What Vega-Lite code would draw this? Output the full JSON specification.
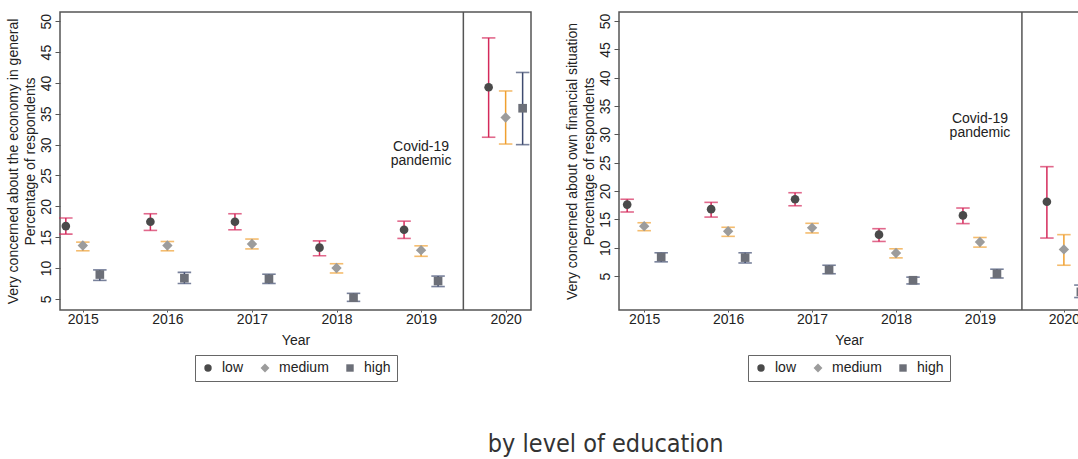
{
  "$schema": "https://vega.github.io/schema/vega-lite/v6.json",
  "padding": {"left": 5, "top": 10, "right": 0, "bottom": 5},
  "background": "white",
  "datasets": {
    "econ": [
      {"year": 2015, "edu": "low", "est": 16.8, "lo": 15.5, "hi": 18.1},
      {"year": 2015, "edu": "medium", "est": 13.65, "lo": 12.8, "hi": 14.2},
      {"year": 2015, "edu": "high", "est": 8.95, "lo": 8.0, "hi": 9.7},
      {"year": 2016, "edu": "low", "est": 17.5, "lo": 16.1, "hi": 18.8},
      {"year": 2016, "edu": "medium", "est": 13.65, "lo": 12.8, "hi": 14.3},
      {"year": 2016, "edu": "high", "est": 8.35, "lo": 7.5, "hi": 9.3},
      {"year": 2017, "edu": "low", "est": 17.5, "lo": 16.2, "hi": 18.8},
      {"year": 2017, "edu": "medium", "est": 13.9, "lo": 13.1, "hi": 14.7},
      {"year": 2017, "edu": "high", "est": 8.25, "lo": 7.5, "hi": 9.0},
      {"year": 2018, "edu": "low", "est": 13.3, "lo": 12.0, "hi": 14.4},
      {"year": 2018, "edu": "medium", "est": 10.0, "lo": 9.2, "hi": 10.7},
      {"year": 2018, "edu": "high", "est": 5.2, "lo": 4.6, "hi": 5.9},
      {"year": 2019, "edu": "low", "est": 16.2, "lo": 14.8, "hi": 17.6},
      {"year": 2019, "edu": "medium", "est": 12.9, "lo": 11.9, "hi": 13.6},
      {"year": 2019, "edu": "high", "est": 7.9, "lo": 7.0, "hi": 8.7},
      {"year": 2020, "edu": "low", "est": 39.3, "lo": 31.2, "hi": 47.3},
      {"year": 2020, "edu": "medium", "est": 34.4, "lo": 30.1, "hi": 38.7},
      {"year": 2020, "edu": "high", "est": 35.9, "lo": 30.0, "hi": 41.7}
    ],
    "fin": [
      {"year": 2015, "edu": "low", "est": 17.6, "lo": 16.3, "hi": 18.55},
      {"year": 2015, "edu": "medium", "est": 13.8, "lo": 13.0, "hi": 14.4},
      {"year": 2015, "edu": "high", "est": 8.35, "lo": 7.5, "hi": 9.1},
      {"year": 2016, "edu": "low", "est": 16.8, "lo": 15.4, "hi": 18.0},
      {"year": 2016, "edu": "medium", "est": 12.9, "lo": 12.0, "hi": 13.6},
      {"year": 2016, "edu": "high", "est": 8.25, "lo": 7.3, "hi": 9.1},
      {"year": 2017, "edu": "low", "est": 18.55, "lo": 17.4, "hi": 19.7},
      {"year": 2017, "edu": "medium", "est": 13.5, "lo": 12.6, "hi": 14.3},
      {"year": 2017, "edu": "high", "est": 6.1, "lo": 5.4, "hi": 6.9},
      {"year": 2018, "edu": "low", "est": 12.3, "lo": 11.1, "hi": 13.35},
      {"year": 2018, "edu": "medium", "est": 9.05, "lo": 8.2, "hi": 9.8},
      {"year": 2018, "edu": "high", "est": 4.25, "lo": 3.6, "hi": 4.8},
      {"year": 2019, "edu": "low", "est": 15.7, "lo": 14.25, "hi": 17.0},
      {"year": 2019, "edu": "medium", "est": 11.0, "lo": 10.1, "hi": 11.8},
      {"year": 2019, "edu": "high", "est": 5.4, "lo": 4.65, "hi": 6.2},
      {"year": 2020, "edu": "low", "est": 18.1, "lo": 11.7, "hi": 24.3},
      {"year": 2020, "edu": "medium", "est": 9.7, "lo": 6.9, "hi": 12.3},
      {"year": 2020, "edu": "high", "est": 2.2, "lo": 1.2, "hi": 3.4}
    ]
  },
  "hconcat": [
    {
      "width": 471,
      "height": 298,
      "data": {"name": "econ"},
      "encoding": {
        "x": {
          "field": "year", "type": "quantitative",
          "scale": {"domain": [2014.73, 2020.3], "nice": false, "zero": false},
          "axis": {"values": [2015, 2016, 2017, 2018, 2019, 2020], "tickCount": 20, "format": "d", "title": "Year"}
        }
      },
      "layer": [
        {
          "transform": [{"filter": "datum.year === 2015 && datum.edu === 'low'"}],
          "mark": {"type": "rule", "color": "#555555", "strokeWidth": 1.5},
          "encoding": {"x": {"datum": 2019.5}}
        },
        {
          "transform": [{"filter": "datum.year === 2015 && datum.edu === 'low'"}],
          "mark": {"type": "text", "text": ["Covid-19", "pandemic"], "fontSize": 14, "lineHeight": 14, "align": "center", "baseline": "middle", "color": "#222222"},
          "encoding": {"x": {"datum": 2019}, "y": {"datum": 29.6}}
        },
        {
          "mark": {"type": "rule", "strokeWidth": 1.5, "xOffset": {"expr": "datum.edu === 'low' ? -17 : datum.edu === 'high' ? 17 : 0"}},
          "encoding": {
            "y": {"field": "lo", "type": "quantitative", "scale": {"domain": [3.2, 51.5], "nice": false, "zero": false},
              "axis": {"values": [5, 10, 15, 20, 25, 30, 35, 40, 45, 50], "tickCount": 20, "labelOverlap": false, "title": ["Very concerned about the economy in general", "Percentage of respondents"]}},
            "y2": {"field": "hi"},
            "stroke": {"condition": [{"test": "datum.edu === 'low'", "value": "#d42a5b"}, {"test": "datum.edu === 'high'", "value": "#3f4b70"}], "value": "#f0a030"}
          }
        },
        {
          "mark": {"type": "tick", "orient": "horizontal", "size": 12, "thickness": 0.1, "filled": false, "strokeWidth": 1.5, "xOffset": {"expr": "datum.edu === 'low' ? -17 : datum.edu === 'high' ? 17 : 0"}},
          "encoding": {
            "y": {"field": "lo", "type": "quantitative",
              "axis": {"values": [5, 10, 15, 20, 25, 30, 35, 40, 45, 50], "tickCount": 20, "labelOverlap": false, "title": ["Very concerned about the economy in general", "Percentage of respondents"]}},
            "stroke": {"condition": [{"test": "datum.edu === 'low'", "value": "#d42a5b"}, {"test": "datum.edu === 'high'", "value": "#3f4b70"}], "value": "#f0a030"}
          }
        },
        {
          "mark": {"type": "tick", "orient": "horizontal", "size": 12, "thickness": 0.1, "filled": false, "strokeWidth": 1.5, "xOffset": {"expr": "datum.edu === 'low' ? -17 : datum.edu === 'high' ? 17 : 0"}},
          "encoding": {
            "y": {"field": "hi", "type": "quantitative",
              "axis": {"values": [5, 10, 15, 20, 25, 30, 35, 40, 45, 50], "tickCount": 20, "labelOverlap": false, "title": ["Very concerned about the economy in general", "Percentage of respondents"]}},
            "stroke": {"condition": [{"test": "datum.edu === 'low'", "value": "#d42a5b"}, {"test": "datum.edu === 'high'", "value": "#3f4b70"}], "value": "#f0a030"}
          }
        },
        {
          "mark": {"type": "point", "filled": true, "opacity": 1, "size": 75, "xOffset": {"expr": "datum.edu === 'low' ? -17 : datum.edu === 'high' ? 17 : 0"}},
          "encoding": {
            "y": {"field": "est", "type": "quantitative",
              "axis": {"values": [5, 10, 15, 20, 25, 30, 35, 40, 45, 50], "tickCount": 20, "labelOverlap": false, "title": ["Very concerned about the economy in general", "Percentage of respondents"]}},
            "color": {"field": "edu", "type": "nominal", "title": null, "scale": {"domain": ["low", "medium", "high"], "range": ["#4a4a4a", "#9c9c9c", "#6c6f78"]}},
            "shape": {"field": "edu", "type": "nominal", "title": null, "scale": {"domain": ["low", "medium", "high"], "range": ["circle", "M0,-1.2L1.2,0L0,1.2L-1.2,0Z", "square"]}}
          }
        }
      ]
    },
    {
      "width": 460,
      "height": 298,
      "data": {"name": "fin"},
      "encoding": {
        "x": {
          "field": "year", "type": "quantitative",
          "scale": {"domain": [2014.7, 2020.18], "nice": false, "zero": false},
          "axis": {"values": [2015, 2016, 2017, 2018, 2019, 2020], "tickCount": 20, "format": "d", "title": "Year"}
        }
      },
      "layer": [
        {
          "transform": [{"filter": "datum.year === 2015 && datum.edu === 'low'"}],
          "mark": {"type": "rule", "color": "#555555", "strokeWidth": 1.5},
          "encoding": {"x": {"datum": 2019.5}}
        },
        {
          "transform": [{"filter": "datum.year === 2015 && datum.edu === 'low'"}],
          "mark": {"type": "text", "text": ["Covid-19", "pandemic"], "fontSize": 14, "lineHeight": 14, "align": "center", "baseline": "middle", "color": "#222222"},
          "encoding": {"x": {"datum": 2019}, "y": {"datum": 32.7}}
        },
        {
          "mark": {"type": "rule", "strokeWidth": 1.5, "clip": true, "xOffset": {"expr": "datum.edu === 'low' ? -17 : datum.edu === 'high' ? 17 : 0"}},
          "encoding": {
            "y": {"field": "lo", "type": "quantitative", "scale": {"domain": [-1, 51.6], "nice": false, "zero": false},
              "axis": {"values": [5, 10, 15, 20, 25, 30, 35, 40, 45, 50], "tickCount": 20, "labelOverlap": false, "title": ["Very concerned about own financial situation", "Percentage of respondents"]}},
            "y2": {"field": "hi"},
            "stroke": {"condition": [{"test": "datum.edu === 'low'", "value": "#d42a5b"}, {"test": "datum.edu === 'high'", "value": "#3f4b70"}], "value": "#f0a030"}
          }
        },
        {
          "mark": {"type": "tick", "orient": "horizontal", "size": 12, "thickness": 0.1, "filled": false, "strokeWidth": 1.5, "clip": true, "xOffset": {"expr": "datum.edu === 'low' ? -17 : datum.edu === 'high' ? 17 : 0"}},
          "encoding": {
            "y": {"field": "lo", "type": "quantitative",
              "axis": {"values": [5, 10, 15, 20, 25, 30, 35, 40, 45, 50], "tickCount": 20, "labelOverlap": false, "title": ["Very concerned about own financial situation", "Percentage of respondents"]}},
            "stroke": {"condition": [{"test": "datum.edu === 'low'", "value": "#d42a5b"}, {"test": "datum.edu === 'high'", "value": "#3f4b70"}], "value": "#f0a030"}
          }
        },
        {
          "mark": {"type": "tick", "orient": "horizontal", "size": 12, "thickness": 0.1, "filled": false, "strokeWidth": 1.5, "clip": true, "xOffset": {"expr": "datum.edu === 'low' ? -17 : datum.edu === 'high' ? 17 : 0"}},
          "encoding": {
            "y": {"field": "hi", "type": "quantitative",
              "axis": {"values": [5, 10, 15, 20, 25, 30, 35, 40, 45, 50], "tickCount": 20, "labelOverlap": false, "title": ["Very concerned about own financial situation", "Percentage of respondents"]}},
            "stroke": {"condition": [{"test": "datum.edu === 'low'", "value": "#d42a5b"}, {"test": "datum.edu === 'high'", "value": "#3f4b70"}], "value": "#f0a030"}
          }
        },
        {
          "mark": {"type": "point", "filled": true, "opacity": 1, "size": 75, "clip": true, "xOffset": {"expr": "datum.edu === 'low' ? -17 : datum.edu === 'high' ? 17 : 0"}},
          "encoding": {
            "y": {"field": "est", "type": "quantitative",
              "axis": {"values": [5, 10, 15, 20, 25, 30, 35, 40, 45, 50], "tickCount": 20, "labelOverlap": false, "title": ["Very concerned about own financial situation", "Percentage of respondents"]}},
            "color": {"field": "edu", "type": "nominal", "title": null, "scale": {"domain": ["low", "medium", "high"], "range": ["#4a4a4a", "#9c9c9c", "#6c6f78"]}},
            "shape": {"field": "edu", "type": "nominal", "title": null, "scale": {"domain": ["low", "medium", "high"], "range": ["circle", "M0,-1.2L1.2,0L0,1.2L-1.2,0Z", "square"]}}
          }
        }
      ]
    }
  ],
  "spacing": 32,
  "resolve": {
    "scale": {"x": "independent", "y": "independent", "color": "independent", "shape": "independent"},
    "legend": {"color": "independent", "shape": "independent"}
  },
  "title": {
    "text": "by level of education",
    "orient": "bottom",
    "anchor": "middle",
    "font": "Liberation Sans Narrow, DejaVu Sans Condensed, Liberation Sans",
    "fontSize": 25,
    "fontWeight": "normal",
    "color": "#333333",
    "offset": 50,
    "dx": 63
  },
  "config": {
    "font": "Liberation Sans",
    "view": {"stroke": "#555555", "strokeWidth": 1.5},
    "axis": {
      "domain": false,
      "grid": false,
      "labelFont": "Liberation Sans",
      "titleFont": "Liberation Sans",
      "labelFontSize": 14,
      "titleFontSize": 14,
      "titleFontWeight": "normal",
      "labelColor": "#222222",
      "titleColor": "#222222",
      "tickColor": "#555555",
      "labelOverlap": false
    },
    "axisY": {"labelAngle": -90, "tickSize": 5, "labelPadding": 2, "titlePadding": 2, "titleLineHeight": 17},
    "axisX": {"tickSize": 2, "labelPadding": 0, "titlePadding": 7},
    "legend": {
      "orient": "bottom",
      "direction": "horizontal",
      "strokeColor": "#666666",
      "fillColor": "white",
      "padding": 6,
      "offset": 8,
      "labelFontSize": 14,
      "labelFont": "Liberation Sans",
      "labelColor": "#222222",
      "symbolSize": 55,
      "symbolStrokeWidth": 0,
      "columnPadding": 14,
      "labelOffset": 7,
      "layout": {"bottom": {"anchor": "middle"}}
    }
  }
}
